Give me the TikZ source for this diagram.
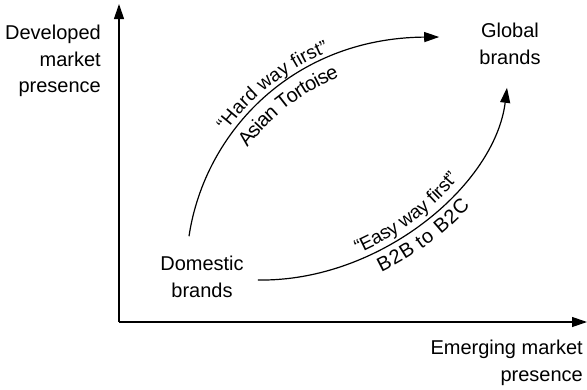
\documentclass[tikz,border=0pt]{standalone}
\usepackage{fontspec}
\setmainfont{Liberation Sans}
\usetikzlibrary{arrows.meta,decorations.text}

\newcommand{\pathfont}{\fontsize{20}{26.5}\selectfont}
\newcommand{\routefont}{\fontsize{19}{24}\selectfont}

\tikzset{
  label text/.style={font=\pathfont,inner sep=4pt,align=center},
  axis/.style={line width=1.2pt,-{Triangle[length=15pt,width=10pt]}},
  route/.style={line width=1.2pt,-{Triangle[length=15pt,width=10pt]}},
  above text/.style={postaction={decorate,decoration={text along path,
      text align=center,raise=6pt,text={|\routefont|#1}}}},
  below text/.style={postaction={decorate,decoration={text along path,
      text align=center,raise=-21pt,text={|\pathfont|#1}}}}
}

\begin{document}
\begin{tikzpicture}[x=1pt,y=-1pt]
    \useasboundingbox (0,0) rectangle (587,389);
    \coordinate (origin) at (119,322);
    \coordinate (ytip) at (119,4);
    \coordinate (xtip) at (587,322);
    \draw[axis] (origin) -- (ytip);
    \draw[axis] (origin) -- (xtip);
    \node[label text,align=right,anchor=east] (ylabel) at (105,61) {Developed\\market\\presence};
    \node[label text,align=right,anchor=east] (xlabel) at (587,363) {Emerging market\\presence};
    \node[label text] (domestic) at (202,277) {Domestic\\brands};
    \node[label text] (global) at (510,44) {Global\\brands};
    \draw[route,above text={“Hard way first”},below text={Asian Tortoise}]
        ([shift={(-13,-16)}]domestic.north) .. controls (205,130) and (295,38) ..
        ([shift={(-36,-7)}]global.west);
    \draw[route,above text={“Easy way first”},below text={B2B to B2C}]
        ([shift={(10,3)}]domestic.east) .. controls (380,282) and (495,185) ..
        ([shift={(-3,19)}]global.south);
\end{tikzpicture}
\end{document}
